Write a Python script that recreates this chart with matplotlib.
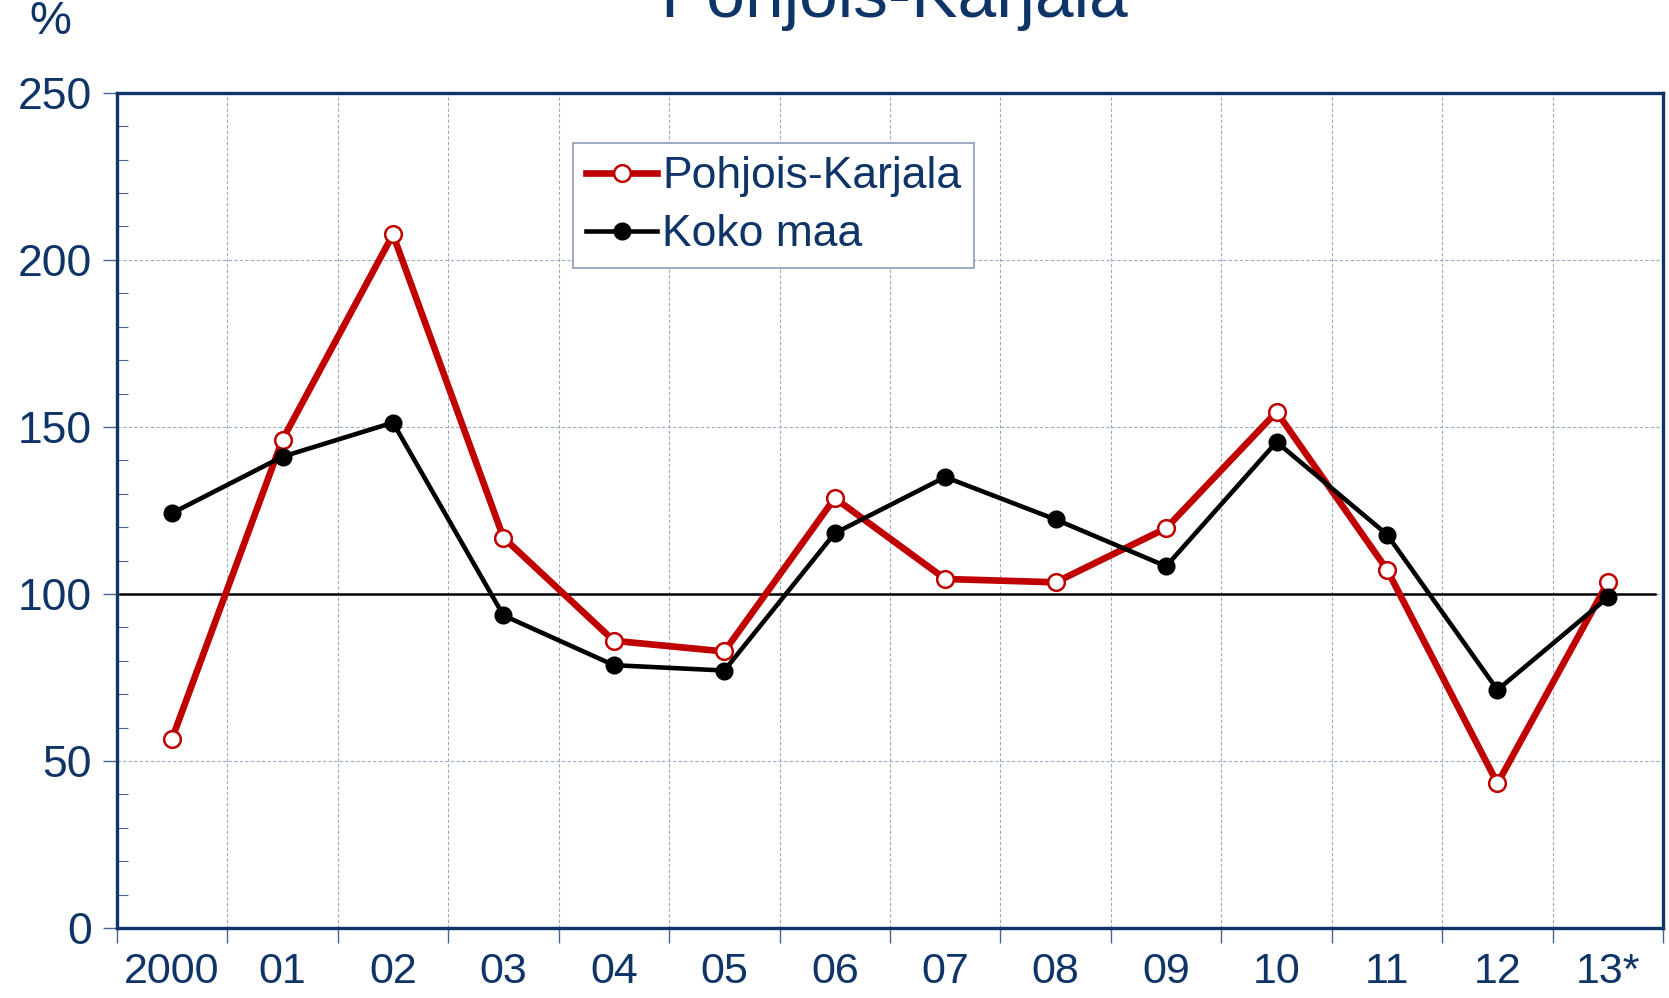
"""
Pohjois-Karjala vs Koko maa, index line chart 2000-2013.
"""

import numpy as np
import matplotlib.pyplot as plt
from matplotlib.ticker import MultipleLocator, FixedLocator

years = ["2000", "01", "02", "03", "04", "05", "06", "07", "08", "09", "10", "11", "12", "13*"]
pohjois_karjala = [56.7, 146.2, 207.6, 116.9, 86.0, 82.8, 128.7, 104.5, 103.5, 119.7, 154.5, 107.3, 43.3, 103.5]
koko_maa = [124.2, 141.1, 151.3, 93.6, 78.7, 77.1, 118.2, 135.0, 122.3, 108.3, 145.5, 117.8, 71.3, 99.0]

navy = "#0F3467"
grid_col = "#9AAAC4"
plt.rcParams["font.family"] = ["Liberation Sans", "DejaVu Sans"]

fig = plt.figure(figsize=(16.69, 9.98), dpi=100)
ax = fig.add_axes([0.070, 0.070, 0.9265, 0.837])

x = np.arange(len(years))
ax.plot(x, pohjois_karjala, color="#C00000", lw=4.8, marker="o", ms=12,
        mfc="white", mec="#C00000", mew=1.8, label="Pohjois-Karjala", zorder=4)
ax.plot(x, koko_maa, color="black", lw=3.3, marker="o", ms=12,
        mfc="black", mec="black", label="Koko maa", zorder=5)

ax.axhline(100, xmin=0.002, xmax=0.995, color="black", lw=1.8, zorder=3)

ax.set_xlim(-0.5, len(years) - 0.5)
ax.set_ylim(0, 250)

ax.yaxis.set_major_locator(MultipleLocator(50))
ax.yaxis.set_minor_locator(MultipleLocator(10))
ax.xaxis.set_major_locator(FixedLocator(x))
ax.xaxis.set_minor_locator(FixedLocator(np.arange(-0.5, len(years), 1.0)))
ax.set_xticklabels(years)

ax.tick_params(axis="x", which="major", length=0, pad=17, labelsize=31, labelcolor=navy)
ax.tick_params(axis="x", which="minor", direction="out", length=11, width=1, color="#4A6290")
ax.tick_params(axis="y", which="major", direction="out", length=10, width=1, color="#4A6290",
               labelsize=32, labelcolor=navy, pad=8)
ax.tick_params(axis="y", which="minor", direction="in", length=8, width=0.8, color="#4A6290")

ax.grid(axis="x", which="minor", linestyle=(0, (3, 2)), color=grid_col, lw=0.8)
ax.grid(axis="y", which="major", linestyle=(0, (3, 2)), color=grid_col, lw=0.8)
ax.set_axisbelow(True)

for s in ax.spines.values():
    s.set_color(navy)
    s.set_linewidth(2.4)

leg = ax.legend(loc="upper left", bbox_to_anchor=(0.295, 0.940), borderaxespad=0, fontsize=32,
                handlelength=1.6, handletextpad=0.1, borderpad=0.3, labelspacing=0.38,
                fancybox=False, framealpha=1, edgecolor="#8A9BB8")
leg.get_frame().set_linewidth(1.2)
for t in leg.get_texts():
    t.set_color(navy)

fig.text(0.536, 0.983, "Pohjois-Karjala", ha="center", va="baseline", fontsize=50, color=navy)
fig.text(0.030, 0.978, "%", ha="center", va="center", fontsize=34, color=navy)

fig.savefig("out.png", dpi=100)
